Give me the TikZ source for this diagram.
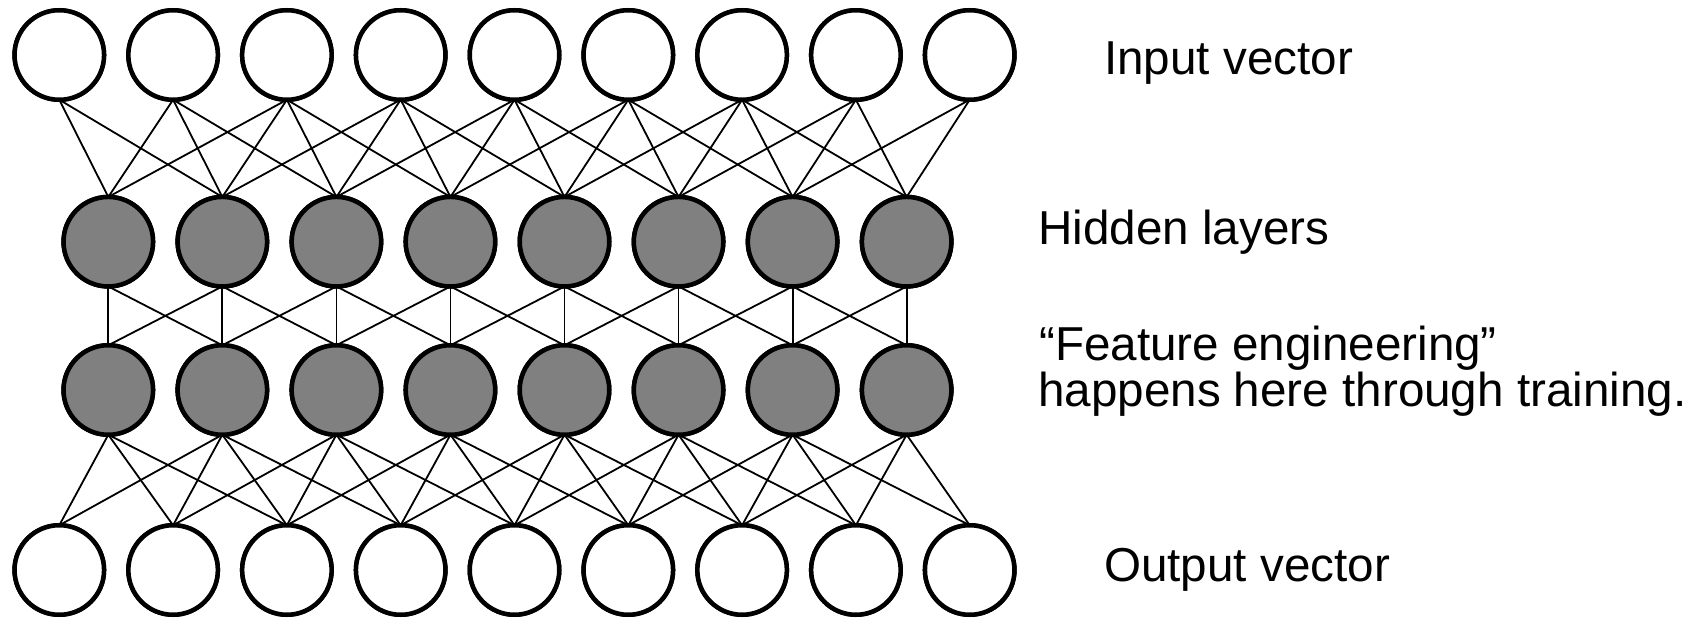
\documentclass[tikz,border=0pt]{standalone}
\usepackage{fontspec}
\setmainfont{Liberation Sans}
\begin{document}
\begin{tikzpicture}[x=1bp,y=-1bp,
  unit/.style={circle,draw=black,line width=4.5bp,minimum size=89.5bp,inner sep=0pt,outer sep=0pt},
  inunit/.style={unit,fill=white},
  hidunit/.style={unit,fill=black!50},
  link/.style={draw=black,line width=1.8bp},
  lbl/.style={anchor=base west,inner sep=0pt,font=\fontsize{47.6bp}{48bp}\selectfont}]
\useasboundingbox (0,0) rectangle (1704,620);
% nodes
\foreach \i in {0,...,8}{
  \node[inunit] (in\i) at ({59.3+113.8*\i},55) {};
  \node[inunit] (out\i) at ({59.3+113.8*\i},570) {};
}
\foreach \i in {0,...,7}{
  \node[hidunit] (ha\i) at ({108.3+114.05*\i},241.7) {};
  \node[hidunit] (hb\i) at ({108.3+114.05*\i},390) {};
}
% connections input -> hidden 1, hidden 2 -> output
\foreach \j in {0,...,8}{
  \foreach \d in {-2,-1,0,1}{
    \pgfmathtruncatemacro{\k}{\j+\d}
    \ifnum\k>-1 \ifnum\k<8
      \draw[link] (in\j.south) -- (ha\k.north);
      \draw[link] (out\j.north) -- (hb\k.south);
    \fi\fi
  }
}
% hidden 1 -> hidden 2
\foreach \i in {0,...,7}{
  \foreach \d in {-1,0,1}{
    \pgfmathtruncatemacro{\k}{\i+\d}
    \ifnum\k>-1 \ifnum\k<8
      \draw[link] (ha\i.south) -- (hb\k.north);
    \fi\fi
  }
}
% redraw nodes on top
\foreach \i in {0,...,8}{
  \node[inunit] at (in\i) {};
  \node[inunit] at (out\i) {};
}
\foreach \i in {0,...,7}{
  \node[hidunit] at (ha\i) {};
  \node[hidunit] at (hb\i) {};
}
% labels
\node[lbl] (tin) at (1104,75) {Input vector};
\node[lbl] (thid) at (1038,245) {Hidden layers};
\node[lbl] (tfe1) at (1039,360) {“Feature engineering”};
\node[lbl] (tfe2) at (1038,406.7) {happens here through training.};
\node[lbl] (tout) at (1104,581.5) {Output vector};
\end{tikzpicture}
\end{document}
